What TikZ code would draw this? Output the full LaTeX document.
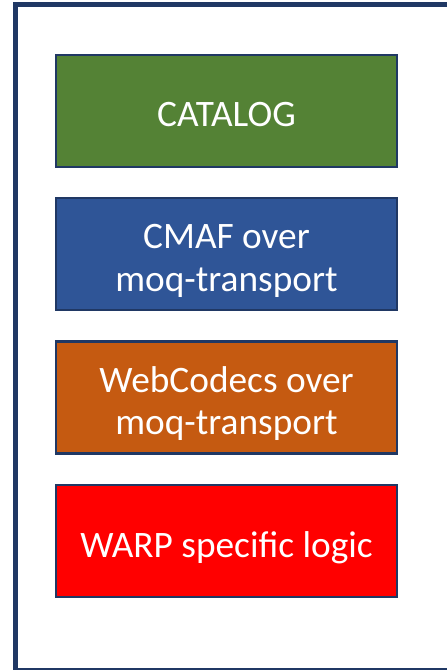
\documentclass[tikz,border=0pt]{standalone}
\usepackage{fontspec}
\setmainfont{Carlito}

\definecolor{framenavy}{RGB}{32,56,100}
\definecolor{catgreen}{RGB}{84,130,53}
\definecolor{cmafblue}{RGB}{47,85,151}
\definecolor{codecorange}{RGB}{197,90,17}
\definecolor{warpred}{RGB}{255,0,0}

% struts so the text sits a little low in its box
\newcommand{\topstrut}{\rule{0pt}{30pt}}
\newcommand{\botstrut}{\rule[-6pt]{0pt}{6pt}}

\tikzset{every picture/.style={line width=0.75pt}}
\tikzset{layerbox/.style={draw=framenavy, line width=1.9pt, minimum width=255.75pt, minimum height=84pt, align=center, text=white, font=\fontsize{28}{32}\selectfont}}

\begin{document}
\begin{tikzpicture}[x=0.75pt,y=0.75pt,yscale=-1,xscale=1]
\useasboundingbox (0,0) rectangle (446,670);

%Shape: Rectangle (outer frame)
\draw [color=framenavy, line width=3.75pt] (15,5) -- (470,5) -- (470,670) -- (15,670) -- cycle ;

% Layer Nodes
\node [layerbox, fill=catgreen] (catalog) at (226.5,111) {\topstrut CATALOG\botstrut};
\node [layerbox, fill=cmafblue] (cmaf) at (226.5,254) {\topstrut CMAF over\\moq-transport\botstrut};
\node [layerbox, fill=codecorange] (webcodecs) at (226.5,397.5) {\topstrut WebCodecs over\\moq-transport\botstrut};
\node [layerbox, fill=warpred] (warp) at (226.5,541) {\topstrut WARP specific logic\botstrut};

\end{tikzpicture}
\end{document}
